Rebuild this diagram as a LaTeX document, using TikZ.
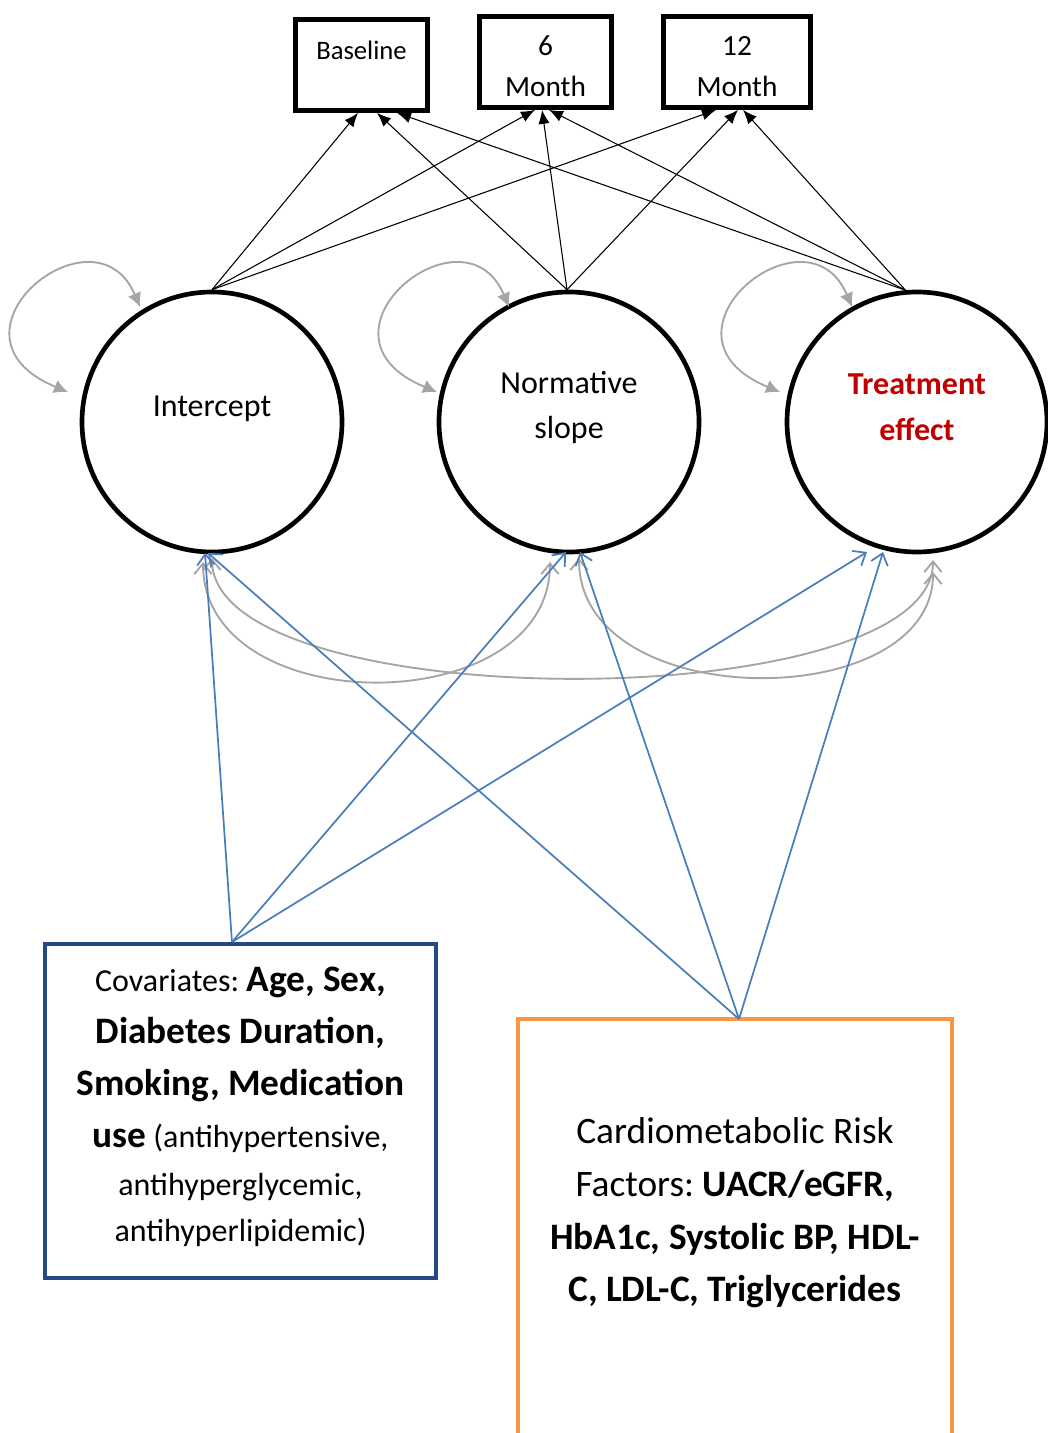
\documentclass[tikz,border=0pt]{standalone}
\usepackage{fontspec}
\setmainfont{Carlito}
\usetikzlibrary{arrows.meta,calc}
\definecolor{accblue}{RGB}{74,126,187}
\definecolor{boxblue}{RGB}{38,74,128}
\definecolor{accorange}{RGB}{247,150,70}
\definecolor{grayc}{RGB}{165,165,165}
\definecolor{dred}{RGB}{192,0,0}
\newcommand{\Bx}[1]{{\fontsize{28}{34}\selectfont\bfseries #1}}
\frenchspacing
\begin{document}
\frenchspacing
\begin{tikzpicture}[x=0.75pt,y=-0.75pt,
  latent/.style={circle, draw, line width=3.5pt, minimum size=195pt, inner sep=0pt},
  obsbox/.style={draw, line width=3.8pt, inner sep=0pt},
  boxlbl/.style={align=center, font=\fontsize{22}{31}\selectfont},
  load/.style={-{Latex[length=10.5pt,width=8.5pt]}, line width=0.8pt},
  reg/.style={-{Straight Barb[length=8pt,width=13pt]}, accblue, line width=1.3pt},
  covar/.style={{Straight Barb[length=8pt,width=13pt]}-{Straight Barb[length=8pt,width=13pt]}, grayc, line width=1.4pt},
  selfvar/.style={{Latex[length=10.5pt,width=10.5pt]}-{Latex[length=10.5pt,width=10.5pt]}, grayc, line width=1.4pt},
  lbl/.style={font=\fontsize{24}{34}\selectfont, align=center}
]
\useasboundingbox (0,0) rectangle (1048,1433);

% observed boxes
\node[obsbox, minimum width=99pt, minimum height=68pt,
      label={[boxlbl, font=\fontsize{20}{31}\selectfont, yshift=11pt]center:Baseline}] (base) at (361.5,65) {};
\node[obsbox, minimum width=99pt, minimum height=68pt,
      label={[boxlbl, yshift=-3.4pt]center:6\\Month}] (m6) at (545.5,62) {};
\node[obsbox, minimum width=110pt, minimum height=68pt,
      label={[boxlbl, yshift=-3.4pt]center:12\\Month}] (m12) at (737,62) {};

% latent circles
\node[latent, label={[lbl, yshift=10pt]center:Intercept}] (int) at (212,422) {};
\node[latent, label={[lbl, yshift=11pt]center:Normative\\slope}] (norm) at (569,422) {};
\node[latent, label={[lbl, yshift=11pt, text=dred, font=\fontsize{24}{34}\selectfont\bfseries]center:Treatment\\effect}] (treat) at (917,422) {};

% covariate boxes
\node[draw=boxblue, line width=3pt, minimum width=293pt, minimum height=250.5pt,
      label={[align=center, font=\fontsize{24}{34}\selectfont\frenchspacing, yshift=3.2pt]center:
  Covariates: \Bx{Age, Sex,}\\[5pt]
  \Bx{Diabetes Duration,}\\[5pt]
  \Bx{Smoking, Medication}\\[5pt]
  \Bx{use} (antihypertensive,\\[2pt]
  antihyperglycemic,\\
  antihyperlipidemic)}] (cov) at (240.5,1111) {};

\node[minimum width=325.5pt, minimum height=310.5pt, outer sep=0pt, inner sep=0pt] (cardbox) at (735,1226) {};
\draw[accorange, line width=3pt] (cardbox.south west) |- (cardbox.north east) -- (cardbox.south east);
\node[align=center, font=\fontsize{28}{39.5}\selectfont\frenchspacing] (cardtext) at (735,1213)
 {Cardiometabolic Risk\\
  Factors: \textbf{UACR/eGFR,}\\
  \textbf{HbA1c, Systolic BP, HDL-}\\
  \textbf{C, LDL-C, Triglycerides}};

% loadings
\draw[load] (int.north) -- ([xshift=-2.6pt]base.south);
\draw[load] (int.north) -- ([xshift=-7.9pt]m6.south);
\draw[load] (int.north) -- ([xshift=-15.75pt]m12.south);
\draw[load] ([xshift=-1.5pt]norm.north) -- ([xshift=11.6pt]base.south);
\draw[load] ([xshift=-1.5pt]norm.north) -- ([xshift=-2.6pt]m6.south);
\draw[load] ([xshift=-1.5pt]norm.north) -- ([xshift=0.75pt]m12.south);
\draw[load] (treat.95) -- ([xshift=26.6pt]base.south);
\draw[load] (treat.95) -- ([xshift=2.6pt]m6.south);
\draw[load] (treat.95) -- ([xshift=4.5pt]m12.south);

% self variances
\foreach \n/\d in {int/0, norm/12, treat/7}{
  \draw[selfvar] ($(\n)+({-72+\d},-115)$) .. controls ($(\n)+({-117+\d},-222)$) and ($(\n)+({-282+\d},-87)$) .. ($(\n)+({-144+\d},-30)$);
}

% covariances
\draw[covar] ($(int)+(-9,140)$) .. controls ($(int)+(-9,300)$) and ($(norm)+(-19,300)$) .. ($(norm)+(-19,140)$);
\draw[covar] ($(int)+(0,136)$) .. controls ($(int)+(0,296)$) and ($(treat)+(16,296)$) .. ($(treat)+(16,138)$);
\draw[covar] ($(norm)+(10,136)$) .. controls ($(norm)+(10,293)$) and ($(treat)+(16,293)$) .. ($(treat)+(16,150)$);

% regressions
\draw[reg] ([xshift=-6.4pt]cov.north) -- ($(int)+(-7,131)$);
\draw[reg] ([xshift=-6.4pt]cov.north) -- ($(norm)+(-3,130)$);
\draw[reg] ([xshift=-6.4pt]cov.north) -- ($(treat)+(-50,130)$);
\draw[reg] ([xshift=3pt]cardbox.north) -- ($(int)+(-4,131)$);
\draw[reg] ([xshift=3pt]cardbox.north) -- ($(norm)+(11,130)$);
\draw[reg] ([xshift=3pt]cardbox.north) -- ($(treat)+(-34,130)$);
\end{tikzpicture}
\end{document}
